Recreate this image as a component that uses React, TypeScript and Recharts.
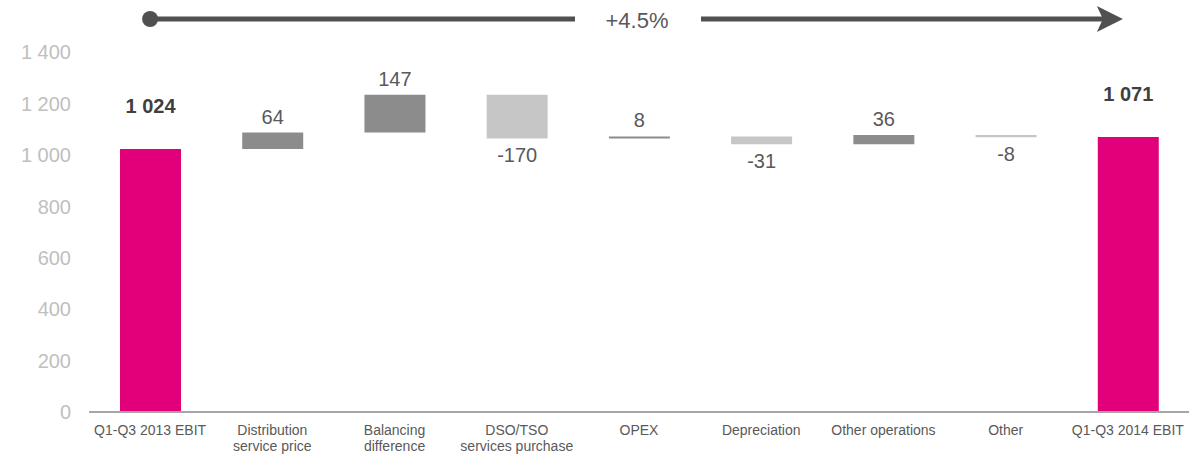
import React from 'react'
import { ComposedChart, Bar, XAxis, YAxis, Cell, LabelList, ReferenceLine } from 'recharts'

const categories = [
  'Q1-Q3 2013 EBIT',
  'Distribution service price',
  'Balancing difference',
  'DSO/TSO services purchase',
  'OPEX',
  'Depreciation',
  'Other operations',
  'Other',
  'Q1-Q3 2014 EBIT',
]

const tickLines = [
  ['Q1-Q3 2013 EBIT'],
  ['Distribution', 'service price'],
  ['Balancing', 'difference'],
  ['DSO/TSO', 'services purchase'],
  ['OPEX'],
  ['Depreciation'],
  ['Other operations'],
  ['Other'],
  ['Q1-Q3 2014 EBIT'],
]

const values = [1024, 64, 147, -170, 8, -31, 36, -8, 1071]
const isTotal = [true, false, false, false, false, false, false, false, true]

const yTicks = [0, 200, 400, 600, 800, 1000, 1200, 1400]
const growthLabel = '+4.5%'

const PINK = '#e2007a'
const DARK_GRAY = '#8c8c8c'
const LIGHT_GRAY = '#c6c6c6'
const TEXT = '#595959'
const FONT = '"Liberation Sans", Arial, sans-serif'

// build waterfall ranges from running total
let running = 0
const data = categories.map((name, i) => {
  const v = values[i]
  let range: [number, number]
  if (isTotal[i]) {
    range = [0, v]
    running = v
  } else {
    range = v >= 0 ? [running, running + v] : [running + v, running]
    running += v
  }
  return { name, range, value: v, total: isTotal[i] }
})

const fmt = (v: number) => {
  const s = String(Math.abs(v)).replace(/\B(?=(\d{3})+(?!\d))/g, ' ')
  return v < 0 ? '-' + s : s
}

const CategoryTick = (props: any) => {
  const { x, y, index } = props
  const lines = tickLines[index] || []
  return (
    <text x={x} y={y} textAnchor="middle" fill={TEXT} fontSize={14} fontFamily={FONT}>
      {lines.map((l, i) => (
        <tspan key={i} x={x} y={y + 23 + i * 16}>{l}</tspan>
      ))}
    </text>
  )
}

const ValueLabel = (props: any) => {
  const { x, y, width, height, index } = props
  const v = values[index]
  const cx = x + width / 2
  if (isTotal[index]) {
    return (
      <text x={cx} y={y - 43} textAnchor="middle" dominantBaseline="central" fontSize={20} fontWeight="bold" fill="#404040" fontFamily={FONT}>
        {fmt(v)}
      </text>
    )
  }
  const ty = v >= 0 ? y - 16 : y + height + 17
  return (
    <text x={cx} y={ty} textAnchor="middle" dominantBaseline="central" fontSize={20} fill={TEXT} fontFamily={FONT}>
      {fmt(v)}
    </text>
  )
}

const GrowthArrow = (props: any) => {
  const { x1, y1, x2 } = props
  const mid = (x1 + x2) / 2
  const tip = x2 - 5
  return (
    <g>
      <circle cx={x1} cy={y1} r={8} fill="#505050" />
      <line x1={x1} y1={y1} x2={mid - 64} y2={y1} stroke="#505050" strokeWidth={5} />
      <text x={mid - 2} y={y1 + 1} textAnchor="middle" dominantBaseline="central" fontSize={22} fill={TEXT} fontFamily={FONT}>
        {growthLabel}
      </text>
      <line x1={mid + 62} y1={y1} x2={tip - 12} y2={y1} stroke="#505050" strokeWidth={5} />
      <polygon points={`${tip - 26},${y1 - 13} ${tip},${y1} ${tip - 26},${y1 + 13} ${tip - 20},${y1}`} fill="#505050" />
    </g>
  )
}

export default function App() {
  return (
    <div style={{ position: 'absolute', left: 0, top: 0, width: 1201, height: 457, background: '#fff' }}>
      <ComposedChart width={1201} height={457} data={data} margin={{ top: 19, right: 12, left: 0, bottom: 5 }}>
        <XAxis
          dataKey="name"
          interval={0}
          tickLine={false}
          tickSize={0}
          tickMargin={0}
          height={40}
          axisLine={{ stroke: '#a6a6a6', strokeWidth: 2 }}
          tick={<CategoryTick />}
        />
        <YAxis
          domain={[0, 1530]}
          ticks={yTicks}
          width={89}
          axisLine={false}
          tickLine={false}
          tickSize={0}
          tickMargin={18}
          tickFormatter={fmt}
          tick={{ fill: '#bfbfbf', fontSize: 20, fontFamily: FONT }}
        />
        <ReferenceLine
          segment={[{ x: categories[0], y: 1530 }, { x: categories[categories.length - 1], y: 1530 }]}
          shape={<GrowthArrow />}
        />
        <Bar dataKey="range" barSize={61} isAnimationActive={false}>
          {data.map((d, i) => (
            <Cell key={i} fill={d.total ? PINK : d.value >= 0 ? DARK_GRAY : LIGHT_GRAY} />
          ))}
          <LabelList dataKey="value" content={<ValueLabel />} />
        </Bar>
      </ComposedChart>
    </div>
  )
}
